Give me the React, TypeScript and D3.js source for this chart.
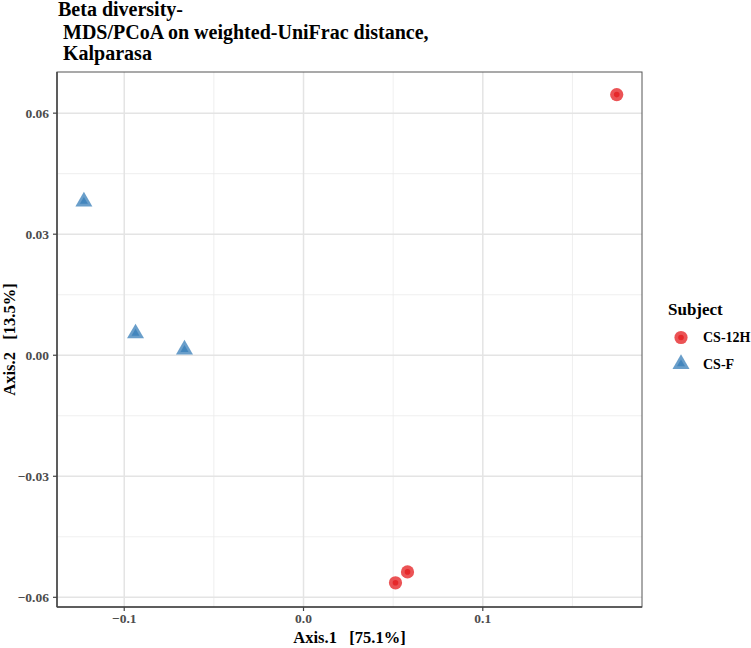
import React from "react";
import * as d3 from "d3";

const subjects = ["CS-12H", "CS-12H", "CS-12H", "CS-F", "CS-F", "CS-F"];
const axis1 = [0.1747, 0.0513, 0.058, -0.1225, -0.0937, -0.0664];
const axis2 = [0.0646, -0.0564, -0.0537, 0.0381, 0.0054, 0.0014];
const xTicks = [-0.1, 0.0, 0.1];
const xMinor = [-0.15, -0.05, 0.05, 0.15];
const yTicks = [-0.06, -0.03, 0.0, 0.03, 0.06];
const yMinor = [-0.075, -0.045, -0.015, 0.015, 0.045, 0.075];
const groups = ["CS-12H", "CS-F"];
const colors = ["#E41A1C", "#377EB8"];
const titleLines = ["Beta diversity-", " MDS/PCoA on weighted-UniFrac distance,", " Kalparasa"];

const W = 751, H = 648;
const L = 57, R = 642, T = 72, B = 607;
const FONT = "'Liberation Serif', 'Times New Roman', serif";

function triPath(cx: number, cy: number, s: number) {
  const h = s * Math.sqrt(3) / 2;
  return `M${cx},${cy - (2 * h) / 3}L${cx + s / 2},${cy + h / 3}L${cx - s / 2},${cy + h / 3}Z`;
}

function Marker({ g, cx, cy }: { g: string; cx: number; cy: number }) {
  const c = colors[groups.indexOf(g)];
  if (g === "CS-12H") {
    return (
      <g>
        <circle cx={cx} cy={cy} r={6.6} fill={c} fillOpacity={0.75} />
        <circle cx={cx} cy={cy} r={2.8} fill={c} fillOpacity={0.75} />
      </g>
    );
  }
  return (
    <g>
      <path d={triPath(cx, cy, 17)} fill={c} fillOpacity={0.75} />
      <path d={triPath(cx, cy, 8)} fill={c} fillOpacity={0.75} />
    </g>
  );
}

export default function App() {
  const x = d3.scaleLinear().domain([-0.1375, 0.1888]).range([L, R]);
  const y = d3.scaleLinear().domain([-0.0624, 0.0702]).range([B, T]);
  const fx = d3.format(".1f");
  const fy = d3.format(".2f");
  const inX = (v: number) => x(v) > L && x(v) < R;
  const inY = (v: number) => y(v) > T && y(v) < B;
  return (
    <svg width={W} height={H} style={{ position: "absolute", left: 0, top: 0 }} fontFamily={FONT}>
      <rect width={W} height={H} fill="#fff" />
      {titleLines.map((t, i) => (
        <text key={i} x={58} y={[16, 39, 59.5][i]} fontSize={20} fontWeight="bold" fill="#000" style={{ whiteSpace: "pre" }}>
          {t}
        </text>
      ))}
      {/* grid */}
      {xMinor.filter(inX).map((v) => (
        <line key={"xm" + v} x1={x(v)} x2={x(v)} y1={T} y2={B} stroke="#ebebeb" strokeWidth={0.8} />
      ))}
      {yMinor.filter(inY).map((v) => (
        <line key={"ym" + v} y1={y(v)} y2={y(v)} x1={L} x2={R} stroke="#ebebeb" strokeWidth={0.8} />
      ))}
      {xTicks.map((v) => (
        <line key={"xM" + v} x1={x(v)} x2={x(v)} y1={T} y2={B} stroke="#e4e4e4" strokeWidth={1.5} />
      ))}
      {yTicks.map((v) => (
        <line key={"yM" + v} y1={y(v)} y2={y(v)} x1={L} x2={R} stroke="#e4e4e4" strokeWidth={1.5} />
      ))}
      {/* points */}
      {axis1.map((v, i) => (
        <Marker key={i} g={subjects[i]} cx={x(v)} cy={y(axis2[i])} />
      ))}
      {/* border */}
      <rect x={L} y={T} width={R - L} height={B - T} fill="none" stroke="#555" strokeWidth={1} />
      <line x1={L} x2={L} y1={T} y2={B} stroke="#444" strokeWidth={1.5} />
      <line x1={L} x2={R} y1={B} y2={B} stroke="#444" strokeWidth={1.5} />
      {/* ticks */}
      {xTicks.map((v) => (
        <g key={"xt" + v}>
          <line x1={x(v)} x2={x(v)} y1={B} y2={B + 4} stroke="#444" strokeWidth={1.2} />
          <text x={x(v)} y={623} textAnchor="middle" fontSize={13.5} fontWeight="bold" fill="#4d4d4d">
            {fx(v)}
          </text>
        </g>
      ))}
      {yTicks.map((v) => (
        <g key={"yt" + v}>
          <line x1={L - 4} x2={L} y1={y(v)} y2={y(v)} stroke="#444" strokeWidth={1.2} />
          <text x={L - 8} y={y(v) + 4.5} textAnchor="end" fontSize={13.5} fontWeight="bold" fill="#4d4d4d">
            {fy(v)}
          </text>
        </g>
      ))}
      {/* axis titles */}
      <text x={(L + R) / 2} y={643} textAnchor="middle" fontSize={16.5} fontWeight="bold" fill="#000" style={{ whiteSpace: "pre" }}>
        {"Axis.1   [75.1%]"}
      </text>
      <text
        transform={`translate(15,${(T + B) / 2}) rotate(-90)`}
        textAnchor="middle"
        fontSize={16.5}
        fontWeight="bold"
        fill="#000"
        style={{ whiteSpace: "pre" }}
      >
        {"Axis.2   [13.5%]"}
      </text>
      {/* legend */}
      <text x={668} y={315} fontSize={17} fontWeight="bold" fill="#000">
        Subject
      </text>
      {groups.map((g, i) => (
        <g key={g}>
          <Marker g={g} cx={681} cy={[337.5, 364][i]} />
          <text x={703} y={[341.5, 368.5][i]} fontSize={14} fontWeight="bold" fill="#000">
            {g}
          </text>
        </g>
      ))}
    </svg>
  );
}
